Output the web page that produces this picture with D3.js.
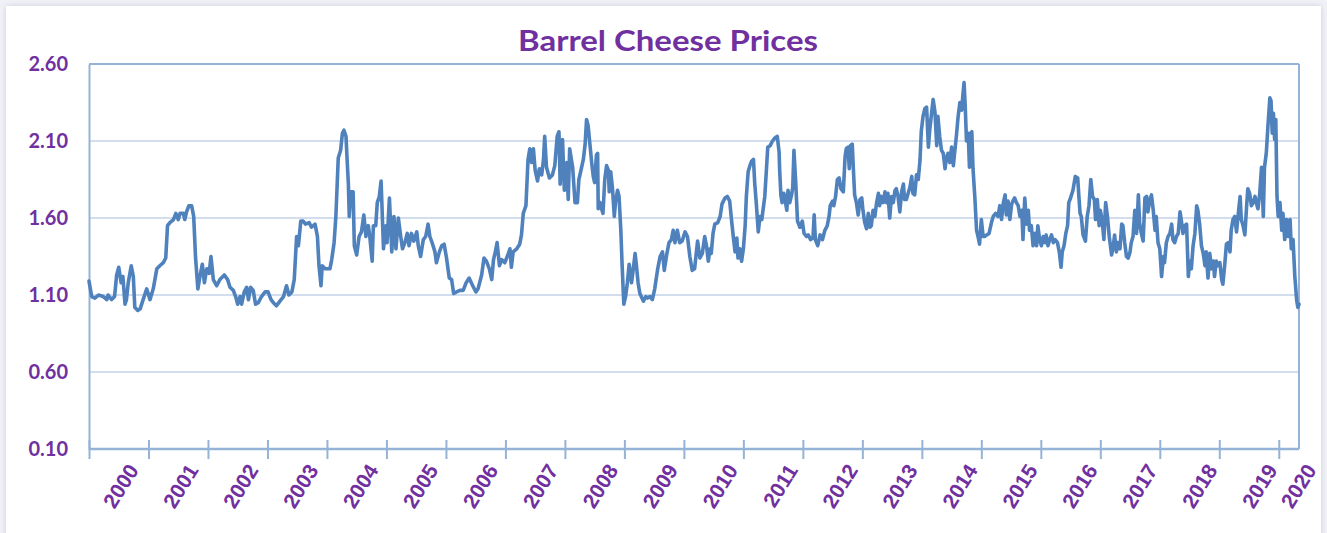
<!DOCTYPE html>
<html>
<head>
<meta charset="utf-8">
<script src="https://cdn.jsdelivr.net/npm/d3@7"></script>
<style>
  html, body { margin: 0; padding: 0; background: #f1f1f7; }
  svg { display: block; }
</style>
</head>
<body>
<script>
// ---------- DATA ----------
const chartTitle = "Barrel Cheese Prices";
const yTickValues = [0.10, 0.60, 1.10, 1.60, 2.10, 2.60];
const xTickYears = [2000,2001,2002,2003,2004,2005,2006,2007,2008,2009,2010,2011,2012,2013,2014,2015,2016,2017,2018,2019,2020];

// decimal-year dates
const dates = [
2000.00,2000.045,2000.10,2000.16,2000.24,2000.30,2000.32,2000.38,2000.43,2000.465,2000.50,2000.54,2000.57,2000.605,2000.63,2000.66,2000.71,2000.745,2000.77,2000.82,2000.86,2000.91,2000.97,
2001.025,2001.08,2001.14,2001.19,2001.25,2001.29,2001.32,2001.36,2001.42,2001.46,2001.50,2001.53,2001.585,2001.61,2001.64,2001.68,2001.725,2001.76,2001.79,2001.83,2001.865,2001.905,2001.94,2001.98,
2002.02,2002.05,2002.09,2002.146,2002.20,2002.275,2002.33,2002.37,2002.426,2002.465,2002.50,2002.54,2002.566,2002.61,2002.65,2002.68,2002.717,2002.76,2002.80,2002.846,2002.90,2002.96,
2003.01,2003.06,2003.10,2003.15,2003.21,2003.27,2003.32,2003.36,2003.41,2003.45,2003.49,2003.52,2003.56,2003.60,2003.64,2003.70,2003.74,2003.80,2003.84,2003.866,2003.90,2003.92,2003.97,
2004.05,2004.08,2004.12,2004.15,2004.19,2004.23,2004.26,2004.286,2004.32,2004.34,2004.36,2004.375,2004.40,2004.44,2004.46,2004.50,2004.54,2004.58,2004.62,2004.655,2004.695,2004.72,2004.76,2004.78,2004.82,2004.846,2004.88,2004.91,2004.95,2004.99,
2005.01,2005.05,2005.09,2005.126,2005.16,2005.20,2005.24,2005.27,2005.31,2005.35,2005.38,2005.42,2005.46,2005.51,2005.535,2005.574,2005.62,2005.66,2005.70,2005.73,2005.776,2005.815,2005.84,2005.89,2005.93,2005.97,
2006.01,2006.056,2006.095,2006.13,2006.18,2006.235,2006.29,2006.34,2006.39,2006.45,2006.504,2006.54,2006.60,2006.64,2006.68,2006.73,2006.77,2006.80,2006.83,2006.86,2006.90,2006.936,2006.99,
2007.05,2007.076,2007.10,2007.13,2007.19,2007.24,2007.27,2007.30,2007.345,2007.38,2007.41,2007.44,2007.47,2007.50,2007.54,2007.57,2007.61,2007.64,2007.66,2007.69,2007.74,2007.79,2007.83,2007.87,2007.90,2007.92,2007.96,2007.99,
2008.03,2008.056,2008.08,2008.13,2008.17,2008.21,2008.235,2008.27,2008.31,2008.34,2008.364,2008.39,2008.42,2008.45,2008.476,2008.50,2008.53,2008.55,2008.56,2008.59,2008.616,2008.64,2008.67,2008.70,2008.73,2008.745,2008.77,2008.80,2008.83,2008.85,2008.885,2008.91,2008.94,2008.96,2008.99,
2009.02,2009.05,2009.08,2009.12,2009.15,2009.18,2009.20,2009.23,2009.26,2009.32,2009.36,2009.39,2009.43,2009.47,2009.51,2009.56,2009.60,2009.64,2009.67,2009.71,2009.75,2009.79,2009.82,2009.85,2009.89,2009.93,2009.97,
2010.02,2010.06,2010.10,2010.14,2010.18,2010.23,2010.27,2010.31,2010.35,2010.38,2010.41,2010.44,2010.46,2010.49,2010.52,2010.57,2010.61,2010.64,2010.69,2010.73,2010.77,2010.80,2010.83,2010.86,2010.89,2010.91,2010.94,2010.97,
2011.00,2011.03,2011.05,2011.08,2011.11,2011.14,2011.17,2011.19,2011.22,2011.25,2011.28,2011.31,2011.33,2011.36,2011.39,2011.41,2011.45,2011.49,2011.53,2011.57,2011.60,2011.61,2011.63,2011.65,2011.68,2011.70,2011.73,2011.75,2011.78,2011.81,2011.83,2011.85,2011.88,2011.91,2011.95,2011.99,
2012.02,2012.06,2012.09,2012.13,2012.17,2012.19,2012.21,2012.25,2012.29,2012.33,2012.37,2012.41,2012.44,2012.46,2012.50,2012.52,2012.55,2012.58,2012.61,2012.64,2012.68,2012.71,2012.73,2012.76,2012.78,2012.80,2012.83,2012.85,2012.87,2012.90,2012.93,2012.96,2012.99,
2013.01,2013.04,2013.07,2013.10,2013.13,2013.15,2013.18,2013.21,2013.24,2013.27,2013.29,2013.32,2013.35,2013.38,2013.41,2013.43,2013.46,2013.49,2013.52,2013.55,2013.57,2013.60,2013.63,2013.66,2013.69,2013.71,2013.74,2013.77,2013.80,2013.83,2013.85,2013.88,2013.91,2013.94,2013.97,2013.99,
2014.02,2014.05,2014.08,2014.11,2014.13,2014.16,2014.19,2014.22,2014.25,2014.27,2014.30,2014.33,2014.36,2014.39,2014.41,2014.44,2014.47,2014.50,2014.53,2014.55,2014.58,2014.61,2014.64,2014.67,2014.69,2014.71,2014.73,2014.75,2014.78,2014.80,2014.82,2014.84,2014.86,2014.89,2014.92,2014.95,2014.97,
2015.00,2015.03,2015.06,2015.09,2015.13,2015.17,2015.20,2015.24,2015.28,2015.31,2015.34,2015.37,2015.40,2015.42,2015.45,2015.48,2015.51,2015.53,2015.56,2015.59,2015.62,2015.65,2015.68,2015.70,2015.73,2015.76,2015.79,2015.81,2015.84,2015.87,2015.90,2015.93,2015.95,2015.98,
2016.01,2016.04,2016.07,2016.09,2016.12,2016.15,2016.18,2016.21,2016.24,2016.28,2016.31,2016.34,2016.36,2016.39,2016.42,2016.45,2016.47,2016.50,2016.54,2016.58,2016.62,2016.64,2016.66,2016.68,2016.71,2016.75,2016.78,2016.81,2016.84,2016.87,2016.90,2016.92,2016.95,2016.98,
2017.00,2017.03,2017.06,2017.09,2017.12,2017.15,2017.19,2017.22,2017.24,2017.27,2017.30,2017.33,2017.36,2017.38,2017.41,2017.44,2017.47,2017.50,2017.52,2017.55,2017.58,2017.61,2017.64,2017.66,2017.69,2017.72,2017.75,2017.78,2017.80,2017.83,2017.86,2017.89,2017.92,2017.94,2017.97,
2018.00,2018.03,2018.06,2018.08,2018.11,2018.14,2018.17,2018.20,2018.22,2018.25,2018.28,2018.31,2018.34,2018.36,2018.39,2018.42,2018.45,2018.48,2018.50,2018.53,2018.56,2018.59,2018.62,2018.64,2018.67,2018.70,2018.73,2018.76,2018.78,2018.81,2018.84,2018.87,2018.90,2018.92,2018.95,2018.98,
2019.01,2019.04,2019.06,2019.09,2019.12,2019.15,2019.18,2019.20,2019.23,2019.26,2019.29,2019.32,2019.35,2019.37,2019.40,2019.43,2019.46,2019.48,2019.51,2019.54,2019.57,2019.60,2019.62,2019.65,2019.68,2019.71,2019.74,2019.76,2019.79,2019.82,2019.85,2019.87,2019.89,2019.91,2019.93,2019.95,2019.97,2019.99,
2020.02,2020.05,2020.07,2020.10,2020.13,2020.16,2020.19,2020.21,2020.24,2020.27,2020.30,2020.32,2020.34
];

// barrel cheese price, $/lb
const prices = [
1.19,1.09,1.08,1.10,1.09,1.07,1.10,1.07,1.09,1.23,1.28,1.18,1.22,1.04,1.07,1.18,1.29,1.22,1.02,1.00,1.01,1.07,1.14,
1.07,1.14,1.27,1.29,1.31,1.34,1.55,1.57,1.59,1.63,1.59,1.63,1.63,1.59,1.64,1.68,1.68,1.61,1.35,1.14,1.22,1.30,1.18,1.27,
1.24,1.35,1.20,1.16,1.20,1.23,1.20,1.15,1.13,1.09,1.04,1.09,1.04,1.12,1.15,1.07,1.15,1.13,1.04,1.05,1.09,1.12,
1.12,1.07,1.05,1.03,1.06,1.09,1.16,1.10,1.12,1.20,1.48,1.42,1.58,1.58,1.56,1.57,1.54,1.56,1.48,1.29,1.16,1.29,1.27,
1.27,1.33,1.44,1.61,1.99,2.04,2.15,2.17,2.13,1.97,1.82,1.61,1.77,1.77,1.42,1.36,1.48,1.51,1.62,1.48,1.55,1.48,1.32,1.55,1.55,1.70,1.74,1.84,1.40,1.55,
1.44,1.73,1.38,1.61,1.40,1.60,1.48,1.40,1.44,1.50,1.42,1.50,1.45,1.51,1.42,1.35,1.46,1.48,1.56,1.48,1.43,1.38,1.31,1.38,1.42,1.43,
1.34,1.21,1.20,1.11,1.12,1.13,1.13,1.18,1.21,1.16,1.12,1.14,1.23,1.34,1.32,1.27,1.20,1.33,1.38,1.44,1.29,1.33,1.31,
1.37,1.40,1.28,1.38,1.40,1.43,1.49,1.63,1.68,1.98,2.05,1.96,2.05,1.91,1.84,1.92,1.88,1.98,2.13,1.93,1.86,1.88,1.94,2.13,2.16,1.82,2.11,1.78,
1.96,1.72,2.05,1.93,1.70,1.70,1.85,1.91,1.98,2.08,2.24,2.20,2.08,1.96,1.87,1.83,2.01,2.02,1.66,1.70,1.66,1.63,1.85,1.94,1.91,1.77,1.90,1.79,1.61,1.70,1.78,1.74,1.52,1.31,1.04,
1.09,1.18,1.30,1.18,1.27,1.37,1.30,1.18,1.11,1.06,1.09,1.08,1.09,1.07,1.14,1.27,1.35,1.38,1.26,1.36,1.44,1.46,1.52,1.44,1.52,1.44,1.45,
1.51,1.48,1.35,1.26,1.27,1.45,1.34,1.37,1.48,1.42,1.32,1.40,1.37,1.50,1.56,1.57,1.61,1.69,1.73,1.74,1.71,1.59,1.48,1.38,1.47,1.34,1.40,1.32,
1.40,1.55,1.74,1.90,1.94,1.97,1.98,1.83,1.68,1.51,1.61,1.59,1.65,1.74,1.93,2.06,2.07,2.10,2.12,2.13,2.03,1.91,1.75,1.70,1.76,1.72,1.65,1.78,1.70,1.75,1.80,2.04,1.83,1.58,1.54,1.58,
1.50,1.48,1.49,1.46,1.47,1.62,1.46,1.42,1.49,1.46,1.52,1.55,1.61,1.68,1.71,1.68,1.74,1.85,1.86,1.79,1.77,2.00,2.05,2.06,1.92,2.07,2.08,1.91,1.75,1.70,1.62,1.72,1.73,
1.65,1.57,1.53,1.63,1.54,1.55,1.65,1.61,1.70,1.76,1.68,1.74,1.70,1.77,1.70,1.76,1.60,1.74,1.70,1.78,1.79,1.74,1.64,1.77,1.82,1.72,1.72,1.76,1.80,1.87,1.76,1.75,1.88,1.85,1.98,2.16,
2.26,2.31,2.32,2.06,2.16,2.27,2.37,2.29,2.07,2.26,2.13,2.04,2.02,1.92,1.98,2.02,1.96,2.06,1.94,2.02,2.13,2.26,2.35,2.30,2.40,2.48,2.32,2.10,2.15,1.93,2.15,2.16,1.92,1.74,1.52,1.47,1.43,
1.59,1.48,1.48,1.49,1.50,1.57,1.61,1.63,1.61,1.68,1.59,1.70,1.75,1.62,1.71,1.59,1.69,1.71,1.73,1.70,1.68,1.61,1.65,1.46,1.73,1.56,1.65,1.52,1.55,1.42,1.50,1.42,1.55,1.46,
1.42,1.48,1.44,1.49,1.42,1.46,1.49,1.44,1.46,1.44,1.38,1.28,1.38,1.42,1.50,1.55,1.70,1.73,1.78,1.87,1.86,1.74,1.63,1.61,1.49,1.45,1.61,1.68,1.85,1.74,1.72,1.59,1.72,1.55,
1.65,1.59,1.46,1.70,1.61,1.48,1.36,1.42,1.49,1.38,1.44,1.40,1.56,1.55,1.44,1.35,1.34,1.38,1.44,1.48,1.65,1.50,1.75,1.57,1.50,1.45,1.73,1.74,1.64,1.71,1.75,1.65,1.52,1.61,1.44,
1.40,1.22,1.35,1.31,1.44,1.48,1.50,1.56,1.46,1.44,1.48,1.50,1.64,1.59,1.50,1.55,1.56,1.22,1.32,1.27,1.42,1.50,1.68,1.65,1.56,1.42,1.37,1.29,1.38,1.21,1.37,1.27,1.32,1.22,1.32,1.29,
1.31,1.20,1.17,1.29,1.43,1.44,1.38,1.52,1.59,1.61,1.51,1.63,1.74,1.59,1.55,1.49,1.68,1.79,1.76,1.68,1.70,1.74,1.70,1.66,1.76,1.93,1.61,1.93,2.02,2.21,2.38,2.36,2.15,2.28,2.11,2.24,1.74,1.61,
1.70,1.52,1.63,1.46,1.59,1.48,1.59,1.40,1.46,1.22,1.07,1.02,1.04
];

// ---------- CHART ----------
const W = 1327, H = 533;
const margin = { top: 64, right: 28, bottom: 84, left: 89 };
const innerW = W - margin.left - margin.right;
const innerH = H - margin.top - margin.bottom;

const purple = "#7030A0";
const axisColor = "#95B3D7";
const gridColor = "#C3D3E8";
const lineColor = "#4F81BD";

const series = dates.map((t, i) => ({ t, v: prices[i] }));

const svg = d3.select("body").append("svg").attr("width", W).attr("height", H);

const defs = svg.append("defs");
const f = defs.append("filter").attr("id", "sh").attr("x", "-2%").attr("y", "-2%").attr("width", "104%").attr("height", "104%");
f.append("feGaussianBlur").attr("in", "SourceAlpha").attr("stdDeviation", 3);
f.append("feOffset").attr("dx", 0).attr("dy", 0).attr("result", "b");
f.append("feFlood").attr("flood-color", "#b8b8d0").attr("flood-opacity", 0.6);
f.append("feComposite").attr("in2", "b").attr("operator", "in");
const m = f.append("feMerge");
m.append("feMergeNode");
m.append("feMergeNode").attr("in", "SourceGraphic");

svg.append("rect").attr("width", W).attr("height", H).attr("fill", "#f1f1f7");
svg.append("rect").attr("x", 6).attr("y", 6).attr("width", W - 12).attr("height", H + 20)
  .attr("fill", "#ffffff").attr("filter", "url(#sh)");

const x = d3.scaleLinear().domain([2000, 2020.34]).range([0, innerW]);
const y = d3.scaleLinear().domain([0.10, 2.60]).range([innerH, 0]);

const g = svg.append("g").attr("transform", `translate(${margin.left},${margin.top})`);

// gridlines
g.append("g").selectAll("line")
  .data(yTickValues.filter(v => v > 0.1 && v < 2.6))
  .join("line")
  .attr("x1", 0).attr("x2", innerW)
  .attr("y1", d => y(d)).attr("y2", d => y(d))
  .attr("stroke", gridColor).attr("stroke-width", 1.6);

// plot border (top & right)
g.append("line").attr("x1", 0).attr("x2", innerW).attr("y1", y(2.6)).attr("y2", y(2.6))
  .attr("stroke", axisColor).attr("stroke-width", 2);
g.append("line").attr("x1", innerW).attr("x2", innerW).attr("y1", 0).attr("y2", innerH)
  .attr("stroke", axisColor).attr("stroke-width", 2);

// y axis
const yAxis = g.append("g")
  .call(d3.axisLeft(y).tickValues(yTickValues).tickFormat(d3.format(".2f")).tickSize(0).tickPadding(21));
yAxis.select(".domain").attr("stroke", axisColor).attr("stroke-width", 2);
yAxis.selectAll("text")
  .attr("fill", purple).style("font-family", "Lato, 'Open Sans', sans-serif")
  .style("font-weight", "700").style("font-size", "20px");

// x axis
const xAxis = g.append("g").attr("transform", `translate(0,${innerH})`)
  .call(d3.axisBottom(x).tickValues(xTickYears).tickFormat(d3.format("d")).tickSize(10).tickPadding(0));
xAxis.select(".domain").attr("stroke", axisColor).attr("stroke-width", 2.5).attr("d", `M0,0H${innerW}`);
xAxis.selectAll(".tick line").attr("stroke", axisColor).attr("stroke-width", 2).attr("y1", -9).attr("y2", 10);
xAxis.selectAll(".tick text")
  .attr("fill", purple)
  .style("font-family", "'Liberation Sans', Arial, sans-serif")
  .style("font-weight", "700").style("font-size", "21px")
  .attr("text-anchor", "end").attr("dy", "0.72em").attr("y", 0)
  .attr("transform", (d, i) => {
    const dx = d === 2020 ? 25 : 37 + 0.45 * i;
    return `translate(${dx},13) rotate(-58)`;
  });

// line
const line = d3.line().x(d => x(d.t)).y(d => y(d.v));
g.append("path").datum(series)
  .attr("d", line)
  .attr("fill", "none").attr("stroke", lineColor)
  .attr("stroke-width", 3.6).attr("stroke-linejoin", "round").attr("stroke-linecap", "round");

// title
svg.append("text")
  .attr("x", 668).attr("y", 51)
  .attr("text-anchor", "middle")
  .attr("fill", purple)
  .style("font-family", "'Comic Sans MS', Lato, sans-serif")
  .style("font-weight", "700").style("font-size", "28px")
  .attr("textLength", 300).attr("lengthAdjust", "spacingAndGlyphs")
  .text(chartTitle);
</script>
</body>
</html>
